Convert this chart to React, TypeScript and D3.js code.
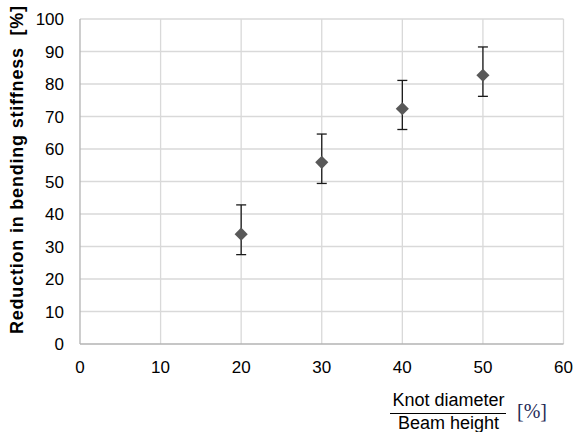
import { useEffect, useRef } from 'react';
import * as d3 from 'd3';

const ratios = [20, 30, 40, 50];
const means = [33.8, 55.9, 72.4, 82.7];
const upper = [42.8, 64.6, 81.1, 91.4];
const lower = [27.5, 49.4, 66.0, 76.2];
const xTicks = [0, 10, 20, 30, 40, 50, 60];
const yTicks = [0, 10, 20, 30, 40, 50, 60, 70, 80, 90, 100];

export default function App() {
  const svgRef = useRef<SVGSVGElement>(null);

  useEffect(() => {
    const width = 575;
    const height = 432;
    const margin = { top: 19, right: 11.5, bottom: 88, left: 80 };

    const svg = d3.select(svgRef.current)
      .attr('width', width)
      .attr('height', height);

    svg.selectAll('*').remove();

    const x = d3.scaleLinear().domain([0, 60]).range([margin.left, width - margin.right]);
    const y = d3.scaleLinear().domain([0, 100]).range([height - margin.bottom, margin.top]);

    const font = 'Liberation Sans, Arial, sans-serif';

    // grid
    svg.append('g')
      .selectAll('line.h')
      .data(yTicks.slice(1))
      .enter()
      .append('line')
      .attr('x1', x(0))
      .attr('x2', x(60))
      .attr('y1', d => y(d))
      .attr('y2', d => y(d))
      .attr('stroke', '#d9d9d9')
      .attr('stroke-width', 1.3);

    svg.append('g')
      .selectAll('line.v')
      .data(xTicks.slice(1))
      .enter()
      .append('line')
      .attr('x1', d => x(d))
      .attr('x2', d => x(d))
      .attr('y1', y(0))
      .attr('y2', y(100))
      .attr('stroke', '#d9d9d9')
      .attr('stroke-width', 1.3);

    // axes lines
    svg.append('line')
      .attr('x1', x(0)).attr('x2', x(0))
      .attr('y1', y(0)).attr('y2', y(100))
      .attr('stroke', '#b3b3b3').attr('stroke-width', 1.3);
    svg.append('line')
      .attr('x1', x(0)).attr('x2', x(60))
      .attr('y1', y(0)).attr('y2', y(0))
      .attr('stroke', '#b3b3b3').attr('stroke-width', 1.3);

    // tick labels
    svg.append('g')
      .selectAll('text')
      .data(yTicks)
      .enter()
      .append('text')
      .attr('x', 64)
      .attr('y', d => y(d))
      .attr('dy', '0.36em')
      .attr('text-anchor', 'end')
      .attr('font-family', font)
      .attr('font-size', 17)
      .attr('fill', '#000')
      .text(d => d);

    svg.append('g')
      .selectAll('text')
      .data(xTicks)
      .enter()
      .append('text')
      .attr('x', d => x(d))
      .attr('y', 372.5)
      .attr('text-anchor', 'middle')
      .attr('font-family', font)
      .attr('font-size', 17)
      .attr('fill', '#000')
      .text(d => d);

    // y title
    svg.append('text')
      .attr('transform', `translate(22.5, 170) rotate(-90)`)
      .attr('text-anchor', 'middle')
      .attr('font-family', font)
      .attr('font-size', 18)
      .attr('font-weight', 'bold')
      .attr('fill', '#000')
      .attr('xml:space', 'preserve')
      .attr('textLength', 328)
      .attr('lengthAdjust', 'spacing')
      .text('Reduction in bending stiffness  [%]');

    // x title as fraction
    const fx = 448.5;
    svg.append('text')
      .attr('x', fx)
      .attr('y', 405.5)
      .attr('text-anchor', 'middle')
      .attr('font-family', font)
      .attr('font-size', 18)
      .attr('fill', '#000')
      .text('Knot diameter');
    svg.append('line')
      .attr('x1', 390).attr('x2', 506)
      .attr('y1', 413.5).attr('y2', 413.5)
      .attr('stroke', '#000').attr('stroke-width', 1);
    svg.append('text')
      .attr('x', fx)
      .attr('y', 428.5)
      .attr('text-anchor', 'middle')
      .attr('font-family', font)
      .attr('font-size', 18)
      .attr('fill', '#000')
      .text('Beam height');
    svg.append('text')
      .attr('x', 517)
      .attr('y', 418)
      .attr('font-family', 'Liberation Serif, Times New Roman, serif')
      .attr('font-size', 20)
      .attr('fill', '#1f2a56')
      .text('[%]');

    // error bars
    const cap = 5;
    const eb = svg.append('g').attr('stroke', '#1a1a1a').attr('stroke-width', 1.3);
    ratios.forEach((r, i) => {
      eb.append('line')
        .attr('x1', x(r)).attr('x2', x(r))
        .attr('y1', y(lower[i])).attr('y2', y(upper[i]));
      eb.append('line')
        .attr('x1', x(r) - cap).attr('x2', x(r) + cap)
        .attr('y1', y(upper[i])).attr('y2', y(upper[i]));
      eb.append('line')
        .attr('x1', x(r) - cap).attr('x2', x(r) + cap)
        .attr('y1', y(lower[i])).attr('y2', y(lower[i]));
    });

    // markers
    svg.append('g')
      .selectAll('path')
      .data(ratios)
      .enter()
      .append('path')
      .attr('transform', (d, i) => `translate(${x(d)}, ${y(means[i])})`)
      .attr('d', d3.symbol(d3.symbolDiamond2, 110)())
      .attr('fill', '#595959');
  }, []);

  return <svg ref={svgRef} style={{ position: 'absolute', left: 0, top: 0 }}></svg>;
}
